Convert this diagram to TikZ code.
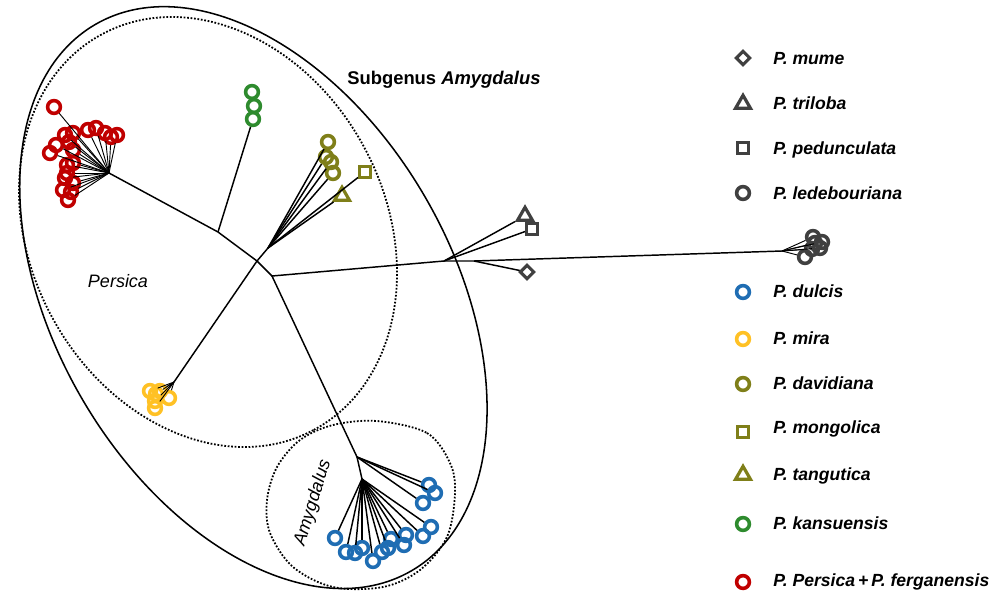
\documentclass[tikz,border=0pt]{standalone}
\usepackage{fontspec}
\setmainfont{Liberation Sans}
\usetikzlibrary{shapes.geometric}
\definecolor{cred}{HTML}{C00000}
\definecolor{cyel}{HTML}{FFC125}
\definecolor{coli}{HTML}{7F7F19}
\definecolor{cgrn}{HTML}{2E8B2E}
\definecolor{cblu}{HTML}{1F6DB3}
\definecolor{cgry}{HTML}{404040}
\tikzset{
  branch/.style={line width=1.1pt, black},
  mring/.style={circle, draw=#1, line width=2.7pt, minimum size=9.6pt, inner sep=0pt},
  mtri/.style={regular polygon, regular polygon sides=3, draw=#1, line width=2.4pt, minimum size=13pt, inner sep=0pt},
  msq/.style={rectangle, draw=#1, line width=2.5pt, minimum size=8pt, inner sep=0pt},
  mdia/.style={regular polygon, regular polygon sides=4, shape border rotate=45, draw=#1, line width=2.3pt, minimum size=10pt, inner sep=0pt},
  legtxt/.style={font=\fontsize{13.2}{16}\selectfont\bfseries\itshape, anchor=base west, inner sep=0pt},
  lbl/.style={font=\fontsize{13.5}{16}\selectfont\itshape, inner sep=0pt},
  solidoutline/.style={line width=1.15pt, black},
  dotoutline/.style={line width=1.35pt, black, dash pattern=on 1.3pt off 1.3pt},
}
\begin{document}
\begin{tikzpicture}[x=0.75pt, y=-0.75pt]
\useasboundingbox (0,0) rectangle (994,593);

% ---------- outlines ----------
\coordinate (outerc) at (253.4,297.6);
\draw[solidoutline, rotate around={-60:(outerc)}] (outerc) ellipse [x radius=315.6, y radius=199];
\coordinate (persc) at (208,232);
\draw[dotoutline, rotate around={-62:(persc)}] (persc) ellipse [x radius=224.4, y radius=177.7];
\draw[dotoutline] plot[smooth cycle, tension=0.55] coordinates {
 (377,421) (427,433) (450,463) (455,493) (447,537) (420,570) (383,587)
 (333,587) (293,567) (270,533) (267,500) (277,467) (300,440) (333,425)};

% ---------- internal nodes ----------
\coordinate (A) at (218,232);
\coordinate (C) at (257,261);
\coordinate (D) at (272,276);
\coordinate (O) at (268,248);
\coordinate (R) at (109,173);
\coordinate (Y) at (174,382);
\coordinate (B1) at (357,457);
\coordinate (B2) at (362,479);
\coordinate (E) at (444,261);
\coordinate (G) at (474,261);
\coordinate (H) at (782,251);

% ---------- tips ----------
% red
\foreach \n/\p in {r1/{(54,107)}, r2/{(65,135)}, r3/{(73,133)}, r4/{(69,142)}, r5/{(88,130)},
  r6/{(96,128)}, r7/{(105,133)}, r8/{(111,137)}, r9/{(117,135)}, r10/{(56,145)},
  r11/{(50,153)}, r12/{(73,150)}, r13/{(67,165)}, r14/{(73,163)}, r15/{(67,173)},
  r16/{(73,183)}, r17/{(63,190)}, r18/{(71,192)}, r19/{(68,200)}, r20/{(65,178)}}
  \node[mring=cred] (\n) at \p {};
% green
\node[mring=cgrn] (g1) at (252,92) {};
\node[mring=cgrn] (g2) at (254,106) {};
\node[mring=cgrn] (g3) at (253,119) {};
% olive
\node[mring=coli] (o1) at (328,142) {};
\node[mring=coli] (o2) at (326,157) {};
\node[mring=coli] (o3) at (331,162) {};
\node[mring=coli] (o4) at (333,173) {};
\node[msq=coli] (osq) at (365,172) {};
\node[mtri=coli] (otri) at (342,196) {};
% yellow
\node[mring=cyel] (y1) at (150,391) {};
\node[mring=cyel] (y2) at (156,394) {};
\node[mring=cyel] (y3) at (160,391) {};
\node[mring=cyel] (y4) at (169,398) {};
\node[mring=cyel] (y5) at (155,401) {};
\node[mring=cyel] (y6) at (155,408) {};
% blue
\foreach \n/\p in {b1/{(335,538)}, b2/{(346,552)}, b3/{(355,553)}, b4/{(362,548)},
  b5/{(373,561)}, b6/{(382,552)}, b7/{(388,548)}, b8/{(391,539)}, b9/{(404,545)},
  b10/{(406,535)}, b11/{(423,536)}, b12/{(431,527)}}
  \node[mring=cblu] (\n) at \p {};
\node[mring=cblu] (b13) at (429,485) {};
\node[mring=cblu] (b14) at (435,493) {};
\node[mring=cblu] (b15) at (423,503) {};
% gray
\node[mtri=cgry] (ktri) at (525,216) {};
\node[msq=cgry] (ksq) at (532,229) {};
\node[mdia=cgry] (kdia) at (527,272) {};
\node[mring=cgry] (k1) at (813,237) {};
\node[mring=cgry] (k2) at (815,243) {};
\node[mring=cgry] (k3) at (822,242) {};
\node[mring=cgry] (k4) at (820,248) {};
\node[mring=cgry] (k5) at (805,257) {};
\node[mring=cgry] (k6) at (812,249) {};

% ---------- branches ----------
\draw[branch] (R) -- (A) -- (C) -- (D) -- (E) -- (G) -- (H);
\draw[branch] (A) -- (g3);
\draw[branch] (C) -- (O);
\draw[branch] (C) -- (Y);
\draw[branch] (D) -- (B1) -- (B2);
\foreach \t in {r1,r2,r3,r4,r5,r6,r7,r8,r9,r10,r11,r12,r13,r14,r15,r16,r17,r18,r19,r20}
  \draw[branch, line width=0.7pt] (R) -- (\t);
\foreach \t in {o1,o2,o3,o4,osq,otri}
  \draw[branch] (O) -- (\t);
\foreach \t in {y1,y2,y3,y4,y5,y6}
  \draw[branch, line width=0.7pt] (Y) -- (\t);
\foreach \t in {b13,b14,b15}
  \draw[branch] (B1) -- (\t);
\foreach \t in {b1,b2,b3,b4,b5,b6,b7,b8,b9,b10,b11,b12}
  \draw[branch] (B2) -- (\t);
\draw[branch] (E) -- (ktri);
\draw[branch] (E) -- (ksq);
\draw[branch] (G) -- (kdia);
\foreach \t in {k1,k2,k3,k4,k5,k6}
  \draw[branch, line width=0.7pt] (H) -- (\t);

% ---------- labels ----------
\node[font=\fontsize{13.8}{16}\selectfont\bfseries, anchor=base west, inner sep=0pt] (title) at (347,84) {Subgenus \textit{Amygdalus}};
\node[lbl] (persica) at (118,281) {Persica};
\node[lbl, rotate=73] (amyg) at (313,503) {Amygdalus};

% ---------- legend ----------
\node[mdia=cgry] (L1) at (743,58) {};
\node[legtxt] (T1) at (773,64) {P. mume};
\node[mtri=cgry] (L2) at (743,104) {};
\node[legtxt] (T2) at (773,109) {P. triloba};
\node[msq=cgry] (L3) at (743,148) {};
\node[legtxt] (T3) at (773,154) {P. pedunculata};
\node[mring=cgry] (L4) at (743,193) {};
\node[legtxt] (T4) at (773,199) {P. ledebouriana};
\node[mring=cblu] (L5) at (743,292) {};
\node[legtxt] (T5) at (773,297) {P. dulcis};
\node[mring=cyel] (L6) at (743,339) {};
\node[legtxt] (T6) at (773,344) {P. mira};
\node[mring=coli] (L7) at (743,384) {};
\node[legtxt] (T7) at (773,389) {P. davidiana};
\node[msq=coli] (L8) at (743,432) {};
\node[legtxt] (T8) at (773,433) {P. mongolica};
\node[mtri=coli] (L9) at (743,475) {};
\node[legtxt] (T9) at (773,480) {P. tangutica};
\node[mring=cgrn] (L10) at (743,524) {};
\node[legtxt] (T10) at (773,529) {P. kansuensis};
\node[mring=cred] (L11) at (743,582) {};
\node[legtxt] (T11) at (773,586) {P. Persica\,+\,P. ferganensis};
\end{tikzpicture}
\end{document}
